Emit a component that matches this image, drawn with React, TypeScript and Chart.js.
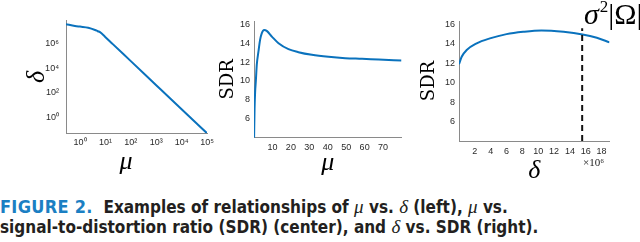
import React, { useEffect, useRef } from "react";
import { Chart, registerables } from "chart.js";

Chart.register(...registerables);

// ---------- Left panel: mu vs delta (log-log) ----------
const MU_LEFT = [0.28, 0.63, 1, 2.1, 3.9, 5, 6.1, 9.6, 20, 100, 1000, 10000, 100000];
const DELTA_LEFT = [3.4e7, 2.5e7, 2.2e7, 1.8e7, 1.18e7, 9.3e6, 7.8e6, 3.4e6, 8.1e5, 3.6e4, 410, 4.7, 0.055];
const MU_TICKS_LEFT = [1, 10, 100, 1000, 10000, 100000];
const MU_LABELS_LEFT = ["10⁰", "10¹", "10²", "10³", "10⁴", "10⁵"];
const DELTA_TICKS_LEFT = [1, 100, 10000, 1000000];
const DELTA_LABELS_LEFT = ["10⁰", "10²", "10⁴", "10⁶"];

// ---------- Middle panel: mu vs SDR ----------
const MU_MID = [0.05, 0.3, 0.6, 1.0, 1.5, 2.4, 3.3, 4.2, 5.5, 6.9, 9.7, 13.3, 18.7, 24.1, 31.4, 40.4, 49.5, 58.6, 67.6, 80];
const SDR_MID = [4.0, 7.0, 8.8, 10.0, 11.7, 13.1, 14.35, 15.05, 15.4, 15.3, 14.7, 14.0, 13.37, 13.05, 12.77, 12.56, 12.42, 12.35, 12.27, 12.17];
const MU_TICKS_MID = [10, 20, 30, 40, 50, 60, 70];
const SDR_TICKS = [6, 8, 10, 12, 14, 16];

// ---------- Right panel: delta vs SDR (delta in units of 10^6) ----------
const DELTA_RIGHT = [0, 0.34, 0.97, 2.23, 3.9, 6.0, 8.1, 10.4, 13.2, 15.6, 17.4, 19.0];
const SDR_RIGHT = [11.9, 12.67, 13.36, 14.05, 14.56, 15.0, 15.24, 15.38, 15.24, 14.97, 14.62, 14.15];
const DELTA_TICKS_RIGHT = [2, 4, 6, 8, 10, 12, 14, 16, 18];
const SIGMA2_OMEGA = 15.55;

const LINE_BLUE = "#0a72bd";
const AXIS_COLOR = "#8a8a8a";
const TICK_COLOR = "#2a2a2a";
const TICK_FONT = { family: '"Liberation Sans", Arial, sans-serif', size: 9 };
const GREEK_FONT = { family: '"Liberation Serif", "Times New Roman", serif', size: 26, style: "italic" as const };
const SDR_FONT = { family: '"DejaVu Serif", serif', size: 18 };

const CANVAS_H = 190;

function pts(xs: number[], ys: number[]) {
  return xs.map((x, i) => ({ x, y: ys[i] }));
}

function axis(opts: {
  type: string;
  min: number;
  max: number;
  size: number;
  tickValues: number[];
  labels?: string[];
  tickPadding: number;
  title?: any;
}) {
  return {
    type: opts.type,
    min: opts.min,
    max: opts.max,
    grid: { display: false, drawTicks: false },
    border: { display: true, color: AXIS_COLOR, width: 1 },
    ticks: {
      autoSkip: false,
      maxRotation: 0,
      minRotation: 0,
      padding: opts.tickPadding,
      color: TICK_COLOR,
      font: TICK_FONT,
      callback: (v: number) => {
        const i = opts.tickValues.indexOf(v);
        if (i < 0) return "";
        return opts.labels ? opts.labels[i] : String(v);
      },
    },
    title: opts.title || { display: false },
    afterBuildTicks: (s: any) => {
      s.ticks = opts.tickValues.map((value) => ({ value }));
    },
    afterFit: (s: any) => {
      if (s.isHorizontal()) s.height = opts.size;
      else s.width = opts.size;
      s.paddingLeft = 0;
      s.paddingRight = 0;
      s.paddingTop = 0;
      s.paddingBottom = 0;
    },
  };
}

function baseOptions(padding: any, scales: any) {
  return {
    responsive: false,
    animation: false,
    events: [],
    layout: { padding },
    plugins: { legend: { display: false }, tooltip: { enabled: false }, title: { display: false } },
    scales,
  };
}

function leftConfig(): any {
  return {
    type: "scatter",
    data: {
      datasets: [
        {
          data: pts(MU_LEFT, DELTA_LEFT),
          showLine: true,
          borderColor: LINE_BLUE,
          borderWidth: 2,
          pointRadius: 0,
          cubicInterpolationMode: "monotone",
        },
      ],
    },
    options: baseOptions(
      { left: 0, top: 20.7, right: 15, bottom: 0 },
      {
        x: axis({ type: "logarithmic", min: 0.28, max: 100000, size: CANVAS_H - 133.3, tickValues: MU_TICKS_LEFT, labels: MU_LABELS_LEFT, tickPadding: 4 }),
        y: axis({
          type: "logarithmic",
          min: 0.054,
          max: 6.6e7,
          size: 66,
          tickValues: DELTA_TICKS_LEFT,
          labels: DELTA_LABELS_LEFT,
          tickPadding: 7,
          title: { display: true, text: "δ", font: GREEK_FONT, color: "#000", padding: { top: 22, bottom: 0 } },
        }),
      }
    ),
  };
}

function midConfig(): any {
  return {
    type: "scatter",
    data: {
      datasets: [
        {
          data: pts(MU_MID, SDR_MID),
          showLine: true,
          borderColor: LINE_BLUE,
          borderWidth: 2,
          pointRadius: 0,
          cubicInterpolationMode: "monotone",
        },
      ],
    },
    options: baseOptions(
      { left: 0, top: 21, right: 10.5, bottom: 0 },
      {
        x: axis({
          type: "linear",
          min: 0,
          max: 80,
          size: CANVAS_H - 137.7,
          tickValues: MU_TICKS_MID,
          tickPadding: 4,
          title: { display: true, text: "μ", font: GREEK_FONT, color: "#000", padding: { top: 0, bottom: 11 } },
        }),
        y: axis({
          type: "linear",
          min: 4,
          max: 16.35,
          size: 42,
          tickValues: SDR_TICKS,
          tickPadding: 4,
          title: { display: true, text: "SDR", font: SDR_FONT, color: "#000", padding: { top: 6, bottom: 0 } },
        }),
      }
    ),
  };
}

function rightConfig(): any {
  return {
    type: "scatter",
    data: {
      datasets: [
        {
          data: [
            { x: SIGMA2_OMEGA, y: 4 },
            { x: SIGMA2_OMEGA, y: 15.6 },
          ],
          showLine: true,
          borderColor: "#111111",
          borderWidth: 2,
          borderDash: [6, 4],
          pointRadius: 0,
        },
        {
          data: pts(DELTA_RIGHT, SDR_RIGHT),
          showLine: true,
          borderColor: LINE_BLUE,
          borderWidth: 2,
          pointRadius: 0,
          cubicInterpolationMode: "monotone",
        },
      ],
    },
    options: baseOptions(
      { left: 0, top: 21, right: 30.5, bottom: 0 },
      {
        x: axis({
          type: "linear",
          min: 0,
          max: 19,
          size: CANVAS_H - 141,
          tickValues: DELTA_TICKS_RIGHT,
          tickPadding: 5,
          title: { display: true, text: "δ", font: GREEK_FONT, color: "#000", padding: { top: 0, bottom: 3 } },
        }),
        y: axis({
          type: "linear",
          min: 4,
          max: 16.35,
          size: 44,
          tickValues: SDR_TICKS,
          tickPadding: 4,
          title: { display: true, text: "SDR", font: SDR_FONT, color: "#000", padding: { top: 4, bottom: 0 } },
        }),
      }
    ),
  };
}

function ChartPanel(props: { left: number; top: number; width: number; height: number; build: () => any }) {
  const ref = useRef<HTMLCanvasElement>(null);
  useEffect(() => {
    const chart = new Chart(ref.current as HTMLCanvasElement, props.build());
    return () => chart.destroy();
  }, []);
  return (
    <canvas
      ref={ref}
      width={props.width}
      height={props.height}
      style={{ position: "absolute", left: props.left, top: props.top, width: props.width, height: props.height }}
    />
  );
}

const serifGreek: React.CSSProperties = {
  fontFamily: '"Liberation Serif", "Times New Roman", serif',
  fontStyle: "italic",
  fontWeight: "normal",
  fontSize: "1.12em",
};

export default function App() {
  return (
    <div style={{ position: "absolute", left: 0, top: 0, width: 640, height: 242, background: "#fff", overflow: "hidden" }}>
      <ChartPanel left={0} top={0} width={222} height={CANVAS_H} build={leftConfig} />
      <ChartPanel left={212} top={0} width={200} height={CANVAS_H} build={midConfig} />
      <ChartPanel left={415} top={0} width={225} height={CANVAS_H} build={rightConfig} />

      {/* x-axis title of left panel */}
      <div
        style={{
          position: "absolute",
          left: 110,
          top: 146,
          width: 32,
          textAlign: "center",
          fontFamily: '"Liberation Serif", serif',
          fontStyle: "italic",
          fontSize: 26,
          lineHeight: "30px",
        }}
      >
        μ
      </div>

      {/* sigma^2 |Omega| annotation */}
      <div
        style={{
          position: "absolute",
          left: 584,
          top: -3,
          fontFamily: '"Liberation Serif", serif',
          fontSize: 30,
          lineHeight: "34px",
          whiteSpace: "nowrap",
        }}
      >
        <i>σ</i>
        <span style={{ fontSize: 17, position: "relative", top: -12, marginLeft: 1 }}>2</span>|Ω|
      </div>

      {/* x10^6 multiplier */}
      <div
        style={{
          position: "absolute",
          left: 583,
          top: 155,
          fontFamily: '"Liberation Serif", serif',
          fontSize: 11,
          lineHeight: "14px",
          color: "#222",
          whiteSpace: "nowrap",
        }}
      >
        ×10⁶
      </div>

      {/* caption */}
      <div
        style={{
          position: "absolute",
          left: 0,
          top: 197,
          fontFamily: '"Liberation Sans Narrow", "DejaVu Sans Condensed", "Liberation Sans", sans-serif',
          fontWeight: "bold",
          fontSize: 17,
          lineHeight: "20px",
          color: "#231f20",
          whiteSpace: "nowrap",
        }}
      >
        <div>
          <span style={{ color: "#1b7fc3", fontSize: 18, letterSpacing: 0.3 }}>FIGURE 2.</span>
          {"\u00a0\u00a0"}Examples of relationships of <span style={serifGreek}>μ</span> vs. <span style={serifGreek}>δ</span> (left),{" "}
          <span style={serifGreek}>μ</span> vs.
        </div>
        <div>
          signal-to-distortion ratio (SDR) (center), and <span style={serifGreek}>δ</span> vs. SDR (right).
        </div>
      </div>
    </div>
  );
}
